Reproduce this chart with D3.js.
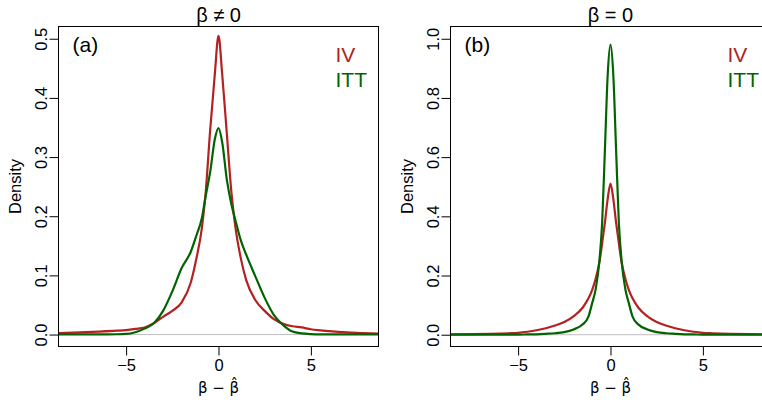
<!DOCTYPE html>
<html>
<head>
<meta charset="utf-8">
<script src="https://cdn.jsdelivr.net/npm/d3@7"></script>
<style>
  body { margin: 0; background: #fff; }
  svg { display: block; font-family: "Liberation Sans", Arial, sans-serif; }
</style>
</head>
<body>
<svg id="chart" width="762" height="403"></svg>
<script>
// data
const seriesNames = ["IV", "ITT"];
const panelTags = ["(a)", "(b)"];
const panelTitles = ["β ≠ 0", "β = 0"];
const xLabel = "β \u2212 β\u0302";
const xTicks = [-5, 0, 5];
const yTicksA = [0, 0.1, 0.2, 0.3, 0.4, 0.5];
const yTicksB = [0, 0.2, 0.4, 0.6, 0.8, 1.0];
const xLim = [-8.66, 8.66];
const yLimA = [-0.0202, 0.5207];
const yLimB = [-0.0398, 1.0414];

// panel (a): beta != 0
const xA = [-8.66, -7.5, -6.5, -5.5, -5, -4.5, -4, -3.5, -3, -2.5, -2, -1.5, -1.2, -0.9, -0.7, -0.45, -0.2, 0,
            0.2, 0.45, 0.7, 0.9, 1.2, 1.5, 2, 2.5, 3, 3.5, 4, 4.5, 5, 5.5, 6.5, 7.5, 8.66];
const ivA = [0.0025, 0.0038, 0.005, 0.0065, 0.0075, 0.0095, 0.012, 0.019, 0.030, 0.040, 0.054, 0.088, 0.128, 0.18, 0.238, 0.346, 0.44, 0.505,
             0.44, 0.34, 0.24, 0.185, 0.13, 0.092, 0.058, 0.040, 0.026, 0.018, 0.014, 0.012, 0.009, 0.0072, 0.0045, 0.0028, 0.0016];
const ittA = [0.0003, 0.0003, 0.0004, 0.0005, 0.001, 0.004, 0.010, 0.019, 0.040, 0.073, 0.112, 0.140, 0.167, 0.197, 0.233, 0.275, 0.33, 0.349,
              0.325, 0.262, 0.22, 0.195, 0.16, 0.135, 0.098, 0.062, 0.033, 0.016, 0.005, 0.002, 0.0008, 0.0004, 0.0003, 0.0003, 0.0003];

// panel (b): beta = 0
const xB = [-8.66, -7.5, -6.5, -5.5, -5, -4.5, -4, -3.5, -3, -2.5, -2, -1.5, -1.2, -1, -0.8, -0.6, -0.45, -0.3, -0.15, 0,
            0.15, 0.3, 0.45, 0.6, 0.8, 1, 1.2, 1.5, 2, 2.5, 3, 3.5, 4, 4.5, 5, 5.5, 6.5, 7.5, 8.66];
const ivB = [0.0012, 0.002, 0.003, 0.005, 0.0065, 0.010, 0.015, 0.022, 0.031, 0.043, 0.062, 0.092, 0.122, 0.15, 0.19, 0.245, 0.31, 0.38, 0.46, 0.511,
             0.46, 0.38, 0.31, 0.245, 0.19, 0.15, 0.122, 0.092, 0.062, 0.043, 0.031, 0.022, 0.015, 0.010, 0.0065, 0.005, 0.003, 0.002, 0.0012];
const ittB = [0.0003, 0.0003, 0.0004, 0.0005, 0.0005, 0.001, 0.0015, 0.003, 0.005, 0.009, 0.018, 0.035, 0.06, 0.105, 0.155, 0.25, 0.38, 0.63, 0.88, 0.98,
              0.88, 0.63, 0.38, 0.25, 0.155, 0.105, 0.06, 0.035, 0.018, 0.009, 0.005, 0.003, 0.0015, 0.001, 0.0005, 0.0005, 0.0004, 0.0003, 0.0003];

const colors = ["#b22222", "#006400"];
const FONT = 16.5;

const svg = d3.select("svg#chart");

const panels = [
    {left: 58.5, x: xA, series: [ivA, ittA], yLim: yLimA, yTicks: yTicksA},
    {left: 450.5, x: xB, series: [ivB, ittB], yLim: yLimB, yTicks: yTicksB}
];
const plotTop = 26.5, plotW = 320, plotH = 320;

panels.forEach((p, i) => drawPanel(p, i));

function drawPanel(p, i) {
    const scaleX = d3.scaleLinear().domain(xLim).range([p.left, p.left + plotW]);
    const scaleY = d3.scaleLinear().domain(p.yLim).range([plotTop + plotH, plotTop]);
    const g = svg.append("g");

    const clipId = "clip" + i;
    g.append("clipPath").attr("id", clipId)
        .append("rect")
        .attr("x", p.left).attr("y", plotTop)
        .attr("width", plotW).attr("height", plotH);

    // zero line
    g.append("line")
        .attr("x1", p.left).attr("x2", p.left + plotW)
        .attr("y1", scaleY(0)).attr("y2", scaleY(0))
        .style("stroke", "#bebebe").style("stroke-width", 1);

    // density curves
    const lineF = d3.line()
        .x((d, k) => scaleX(p.x[k]))
        .y(d => scaleY(d))
        .curve(d3.curveMonotoneX);
    p.series.forEach((s, k) => {
        g.append("path")
            .datum(s)
            .attr("d", lineF)
            .attr("clip-path", `url(#${clipId})`)
            .style("fill", "none")
            .style("stroke", colors[k])
            .style("stroke-width", 2.2);
    });

    // box
    g.append("rect")
        .attr("x", p.left).attr("y", plotTop)
        .attr("width", plotW).attr("height", plotH)
        .style("fill", "none").style("stroke", "#000").style("stroke-width", 1);

    // axes
    const axisX = d3.axisBottom(scaleX).tickValues(xTicks).tickSize(9).tickPadding(4)
        .tickFormat(d => d < 0 ? "\u2212" + Math.abs(d) : String(d));
    const gx = g.append("g")
        .attr("transform", `translate(0, ${plotTop + plotH})`)
        .call(axisX);
    gx.select(".domain").remove();
    gx.selectAll("text").style("font-size", FONT + "px").style("font-family", "inherit").attr("fill", "#000");
    gx.selectAll("line").attr("stroke", "#000");

    const axisY = d3.axisLeft(scaleY).tickValues(p.yTicks).tickSize(9)
        .tickFormat(d3.format(".1f"));
    const gy = g.append("g")
        .attr("transform", `translate(${p.left}, 0)`)
        .call(axisY);
    gy.select(".domain").remove();
    gy.selectAll("line").attr("stroke", "#000");
    gy.selectAll("text")
        .attr("x", 0).attr("dy", null)
        .attr("transform", "translate(-11.5, 0) rotate(-90)")
        .attr("text-anchor", "middle")
        .style("font-size", FONT + "px").style("font-family", "inherit").attr("fill", "#000");

    // titles and labels
    const cx = p.left + plotW / 2;
    g.append("text")
        .attr("x", cx).attr("y", 22)
        .attr("text-anchor", "middle")
        .style("font-size", "20px")
        .text(panelTitles[i]);

    g.append("text")
        .attr("transform", `translate(${p.left - 38}, ${plotTop + plotH / 2}) rotate(-90)`)
        .attr("text-anchor", "middle")
        .style("font-size", FONT + "px")
        .text("Density");

    g.append("text")
        .attr("x", cx).attr("y", 393)
        .attr("text-anchor", "middle")
        .style("font-family", "'DejaVu Sans', sans-serif")
        .style("font-size", "15px")
        .text(xLabel);

    g.append("text")
        .attr("x", p.left + 14).attr("y", 52)
        .style("font-size", "21px")
        .text(panelTags[i]);

    seriesNames.forEach((name, k) => {
        g.append("text")
            .attr("x", p.left + 277).attr("y", 62 + k * 25)
            .style("font-size", "21px")
            .style("fill", colors[k])
            .text(name);
    });
}
</script>
</body>
</html>
